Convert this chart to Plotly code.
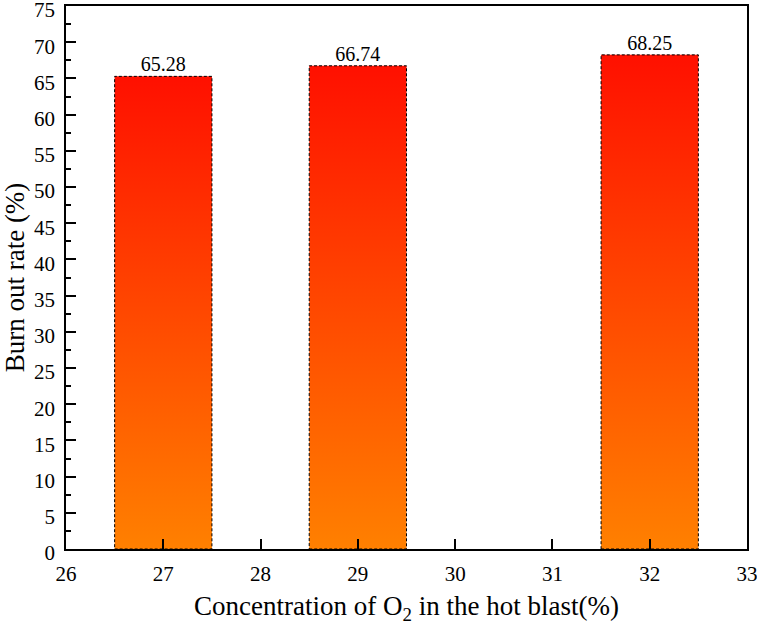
import plotly.graph_objects as go

o2_conc = [27, 29, 32]
burn_out = [65.28, 66.74, 68.25]
bar_width = 1.0

font = "Times New Roman, Liberation Serif, serif"

fig = go.Figure()
for xc, val in zip(o2_conc, burn_out):
    x0, x1 = xc - bar_width / 2, xc + bar_width / 2
    fig.add_trace(go.Scatter(
        x=[x0, x1, x1, x0, x0], y=[0, 0, val, val, 0],
        mode="lines", fill="toself",
        fillgradient=dict(type="vertical", start=0, stop=val,
                          colorscale=[[0, "#FF8000"], [1, "#FF1000"]]),
        line=dict(color="black", width=1, dash="3px,2px"),
        showlegend=False, hoverinfo="skip"))

fig.add_trace(go.Scatter(
    x=o2_conc, y=burn_out, mode="text",
    text=[f"{v:.2f}" for v in burn_out], textposition="top center",
    textfont=dict(family=font, size=20, color="black"),
    showlegend=False, hoverinfo="skip"))

fig.update_layout(
    width=757, height=627,
    margin=dict(l=66, r=10, t=6, b=78, autoexpand=False),
    plot_bgcolor="white", paper_bgcolor="white",
    font=dict(family=font, color="black", size=21),
    xaxis=dict(range=[26, 33], dtick=1, tick0=26, ticks="inside", ticklen=10,
               tickwidth=1.5, tickcolor="black", showline=True, linewidth=1.5,
               linecolor="black", mirror=True, showgrid=False, zeroline=False,
               automargin=False, ticklabelstandoff=5, ticklabeloverflow="allow",
               tickfont=dict(size=21, family=font, color="black"),
               title=dict(text="Concentration of O<sub>2</sub> in the hot blast(%)",
                          font=dict(size=27, family=font), standoff=11)),
    yaxis=dict(range=[0, 75], dtick=5, tick0=0, ticks="inside", ticklen=10,
               tickwidth=1.5, tickcolor="black", showline=True, linewidth=1.5,
               linecolor="black", mirror=True, showgrid=False, zeroline=False,
               automargin=False, ticklabelstandoff=5, ticklabelshift=4,
               ticklabeloverflow="allow",
               tickfont=dict(size=21, family=font, color="black"),
               minor=dict(dtick=2.5, ticks="inside", ticklen=5, tickwidth=1.5,
                          tickcolor="black", showgrid=False),
               title=dict(text="Burn out rate (%)",
                          font=dict(size=27, family=font), standoff=11)),
)

fig.write_html("out.html", config={"displayModeBar": False},
               post_script="document.body.style.margin='0';")
